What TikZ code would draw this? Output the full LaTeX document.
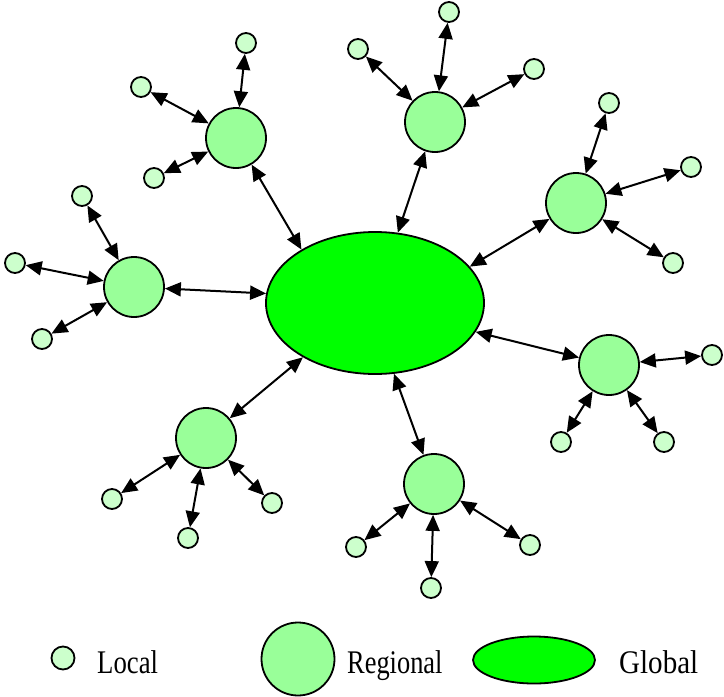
\documentclass[tikz,border=0pt]{standalone}
\usepackage{fontspec}
\setmainfont{Liberation Serif}
\usetikzlibrary{arrows.meta,shapes.geometric}

\definecolor{localgreen}{HTML}{CCFFCC}
\definecolor{regiongreen}{HTML}{99FF99}
\definecolor{globalgreen}{HTML}{00FF00}

\tikzset{
  localnode/.style={circle, draw, line width=1.8pt, fill=localgreen, minimum size=20pt, inner sep=0pt},
  regionalnode/.style={circle, draw, line width=1.8pt, fill=regiongreen, minimum size=60pt, inner sep=0pt},
  globalnode/.style={ellipse, draw, line width=1.8pt, fill=globalgreen, minimum width=218pt, minimum height=142pt, inner sep=0pt},
  link/.style={{Triangle[length=16pt,width=14pt]}-{Triangle[length=16pt,width=14pt]}, line width=2pt},
  legendtext/.style={font=\fontsize{33}{33}\selectfont, anchor=base west, inner sep=0pt}
}

\begin{document}
\begin{tikzpicture}[x=1pt, y=-1pt]
  \useasboundingbox (0,0) rectangle (724,697);
  \node[globalnode] (G) at (375,303) {};
  \node[regionalnode] (R1) at (236,138) {};
  \node[regionalnode] (R2) at (435,122) {};
  \node[regionalnode] (R3) at (576,203) {};
  \node[regionalnode] (R4) at (134,287) {};
  \node[regionalnode] (R5) at (609,365) {};
  \node[regionalnode] (R6) at (206,438) {};
  \node[regionalnode] (R7) at (434,484) {};
  \node[localnode] (L1a) at (246,43) {};
  \node[localnode] (L1b) at (141,87) {};
  \node[localnode] (L1c) at (154,178) {};
  \node[localnode] (L2a) at (449,12) {};
  \node[localnode] (L2b) at (358,49) {};
  \node[localnode] (L2c) at (534,69) {};
  \node[localnode] (L3a) at (609,103) {};
  \node[localnode] (L3b) at (691,167) {};
  \node[localnode] (L3c) at (673,263) {};
  \node[localnode] (L4a) at (82,196) {};
  \node[localnode] (L4b) at (15,263) {};
  \node[localnode] (L4c) at (42,339) {};
  \node[localnode] (L5a) at (712,355) {};
  \node[localnode] (L5b) at (561,442) {};
  \node[localnode] (L5c) at (664,442) {};
  \node[localnode] (L6a) at (112,499) {};
  \node[localnode] (L6b) at (188,538) {};
  \node[localnode] (L6c) at (272,503) {};
  \node[localnode] (L7a) at (356,547) {};
  \node[localnode] (L7b) at (431,588) {};
  \node[localnode] (L7c) at (530,545) {};
  \draw[link] (R1) -- (G.144);
  \draw[link] (R2) -- (G.72);
  \draw[link] (R3) -- (G.21);
  \draw[link] (R4) -- (G.175);
  \draw[link] (R5) -- (G.344);
  \draw[link] (R6) -- (G.217);
  \draw[link] (R7) -- (G.285);
  \foreach \r in {1,...,7}
    \foreach \l in {a,b,c}
      \draw[link] (R\r) -- (L\r\l);
  \node[localnode, minimum size=23pt] (legLocal) at (63,658) {};
  \node[legendtext] (txtLocal) at (97,673) {\scalebox{0.81}[1]{Local}};
  \node[regionalnode, minimum size=73pt] (legRegional) at (298,659) {};
  \node[legendtext] (txtRegional) at (347,673) {\scalebox{0.8}[1]{Regional}};
  \node[globalnode, minimum width=122pt, minimum height=47pt] (legGlobal) at (534,660) {};
  \node[legendtext] (txtGlobal) at (619,673) {\scalebox{0.88}[1]{Global}};
\end{tikzpicture}
\end{document}
